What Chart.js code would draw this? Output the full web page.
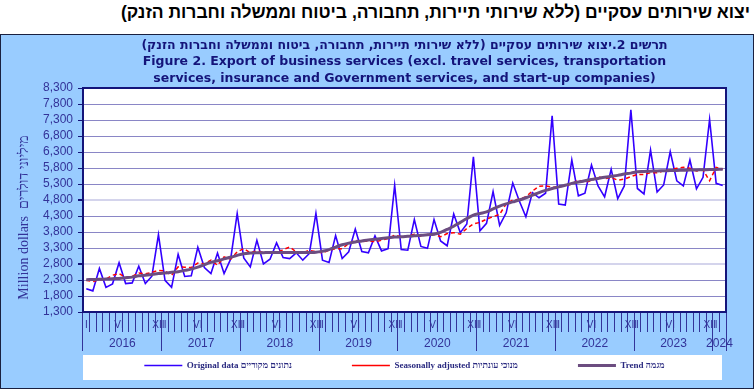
<!DOCTYPE html>
<html>
<head>
<meta charset="utf-8">
<script src="https://cdn.jsdelivr.net/npm/chart.js@4.4.1/dist/chart.umd.min.js"></script>
<style>
  html, body { margin: 0; padding: 0; background: #ffffff; }
  body { width: 756px; height: 389px; position: relative; overflow: hidden; }
  #heading {
    position: absolute; top: 1px; right: 6px;
    font: bold 17.5px "Liberation Sans", Arial, sans-serif;
    color: #000000; direction: rtl; white-space: nowrap; line-height: 22px;
  }
  #panel {
    position: absolute; left: 0; top: 34px; width: 752px; height: 353px;
    background: #99ccff; border: 1px solid #1a2040;
  }
  #wrap { position: absolute; left: 0; top: 35px; width: 754px; height: 354px; }
</style>
</head>
<body>
<div id="heading">יצוא שירותים עסקיים (ללא שירותי תיירות, תחבורה, ביטוח וממשלה וחברות הזנק)</div>
<div id="panel"></div>
<div id="wrap"><canvas id="chart_canvas"></canvas></div>
<script>
// chart titles
var title_lines = [
    'תרשים 2.יצוא שירותים עסקיים (ללא שירותי תיירות, תחבורה, ביטוח וממשלה וחברות הזנק)',
    'Figure 2. Export of business services (excl. travel services, transportation',
    'services, insurance and Government services, and start-up companies)'
];
// trailing spaces push the rotated title down a little
var y_title = 'Million dollars  מיליוני דולרים\u2002\u2002\u2002\u2002\u2002';
var series_names = ['Original data נתונים מקוריים', 'Seasonally adjusted מנוכי עונתיות', 'Trend מגמה'];

// x categories: monthly, Jan 2016 .. Feb 2024
var years = [2016, 2017, 2018, 2019, 2020, 2021, 2022, 2023, 2024];
var months_per_year = [12, 12, 12, 12, 12, 12, 12, 12, 2];
var month_ticks = ['I', '', '', '', '', 'VI', '', '', '', '', '', 'XII'];

// y axis
var y_min = 1300;
var y_max = 8300;
var y_step = 500;

// million dollars
var original_data = [
    2030, 1960, 2660, 2070, 2180, 2840, 2190, 2210, 2730, 2190, 2420, 3720,
    2290, 2070, 3100, 2410, 2430, 3320, 2690, 2500, 3140, 2500, 2950, 4380,
    2990, 2710, 3540, 2800, 2950, 3460, 3000, 2970, 3150, 2920, 3130, 4380,
    2920, 2850, 3690, 2970, 3180, 3890, 3190, 3150, 3680, 3210, 3280, 5260,
    3250, 3230, 4190, 3350, 3290, 4190, 3520, 3370, 4360, 3780, 4050, 6150,
    3840, 4070, 5060, 4010, 4400, 5330, 4770, 4275, 5030, 4870, 5010, 7430,
    4670, 4640, 6050, 4930, 5010, 5890, 5240, 4900, 5760, 4840, 5240, 7620,
    5160, 4990, 6360, 5050, 5270, 6310, 5400, 5240, 6050, 5150, 5510, 7320,
    5320, 5250
];
var seasonal_data = [
    2290, 2250, 2310, 2330, 2450, 2500, 2380, 2420, 2520, 2490, 2540, 2600,
    2580, 2450, 2710, 2700, 2690, 2830, 2800, 2920, 2760, 3020, 2950, 3180,
    3280, 3150, 3210, 3160, 3130, 3140, 3250, 3330, 3180, 3150, 3230, 3180,
    3150, 3230, 3280, 3280, 3440, 3540, 3500, 3520, 3500, 3540, 3600, 3700,
    3650, 3670, 3730, 3670, 3720, 3730, 3650, 3750, 3780, 3730, 3910, 4050,
    4100, 4200, 4280, 4350, 4680, 4800, 4820, 4900, 5080, 5230, 5240, 5200,
    5210, 5240, 5300, 5420, 5360, 5400, 5530, 5470, 5500, 5420, 5450, 5530,
    5600, 5600, 5650, 5650, 5710, 5740, 5790, 5820, 5790, 5710, 5740, 5400,
    5820, 5760
];
var trend_data = [
    2310, 2315, 2320, 2330, 2340, 2350, 2370, 2390, 2430, 2450, 2470, 2500,
    2520, 2540, 2560, 2600, 2640, 2700, 2780, 2850, 2900, 2960, 3010, 3070,
    3120, 3140, 3150, 3155, 3160, 3160, 3160, 3160, 3160, 3160, 3160, 3165,
    3200, 3250, 3330, 3400, 3450, 3490, 3520, 3550, 3575, 3600, 3620, 3640,
    3650, 3665, 3680, 3700, 3715, 3730, 3790, 3880, 3980, 4100, 4220, 4330,
    4380, 4430, 4520, 4610, 4680, 4740, 4800, 4870, 4950, 5030, 5100, 5160,
    5210, 5260, 5320, 5360, 5400, 5440, 5475, 5510, 5540, 5570, 5610, 5640,
    5680, 5690, 5700, 5710, 5715, 5720, 5725, 5730, 5735, 5740, 5745, 5750,
    5755, 5760
];

var navy = '#14147a';
var axis_text = '#333399';

// build the month labels and the index where each year's label goes
var labels = [];
var year_label_at = {};
for (var y = 0; y < years.length; y++) {
    year_label_at[labels.length + Math.floor((months_per_year[y] - 1) / 2)] = years[y];
    for (var m = 0; m < months_per_year[y]; m++) {
        labels.push(years[y] + '-' + (m + 1));
    }
}

Chart.defaults.font.family = '"Liberation Sans", Arial, sans-serif';
Chart.defaults.animation = false;

// white plot area, white legend box, dark frame round the plot
var frame_plugin = {
    id: 'frame',
    beforeDraw: function (chart) {
        var ctx = chart.ctx, a = chart.chartArea, lg = chart.legend;
        ctx.save();
        ctx.fillStyle = '#ffffff';
        ctx.fillRect(a.left, a.top, a.right - a.left, a.bottom - a.top);
        ctx.fillRect(a.left, lg.top, a.right - a.left - 4, lg.bottom - lg.top);
        ctx.restore();
    },
    afterDraw: function (chart) {
        var ctx = chart.ctx, a = chart.chartArea;
        ctx.save();
        ctx.strokeStyle = navy;
        ctx.lineWidth = 2;
        ctx.strokeRect(a.left, a.top, a.right - a.left, a.bottom - a.top);
        ctx.restore();
    }
};

var canvas = document.getElementById('chart_canvas');
var chart = new Chart(canvas, {
    type: 'line',
    data: {
        labels: labels,
        datasets: [
            { label: series_names[0], data: original_data, borderColor: '#3300ff', backgroundColor: '#3300ff',
              borderWidth: 1.6, pointRadius: 0, tension: 0, order: 2 },
            { label: series_names[1], data: seasonal_data, borderColor: '#ff0000', backgroundColor: '#ff0000',
              borderWidth: 1.5, borderDash: [4, 3], pointRadius: 0, tension: 0, order: 1 },
            { label: series_names[2], data: trend_data, borderColor: '#6c4d80', backgroundColor: '#6c4d80',
              borderWidth: 3, pointRadius: 0, tension: 0.4, order: 0 }
        ]
    },
    options: {
        responsive: true,
        maintainAspectRatio: false,
        events: [],
        layout: { padding: { left: 0, right: 28, top: 0, bottom: 9 } },
        plugins: {
            title: {
                display: true, fullSize: false, text: title_lines, color: navy,
                font: { family: '"DejaVu Sans", Verdana, sans-serif', size: 12.5, weight: 'bold', lineHeight: 1.32 },
                padding: { top: 2, bottom: 1.5 }
            },
            legend: {
                position: 'bottom', fullSize: false,
                labels: {
                    usePointStyle: true, pointStyle: 'line', pointStyleWidth: 38,
                    color: '#2a2a80', padding: 6,
                    font: { family: '"Liberation Serif", "Times New Roman", serif', size: 9, weight: 'bold' },
                    generateLabels: function (chart) {
                        // keep dataset order (not draw order) and widen the gaps
                        var items = Chart.defaults.plugins.legend.labels.generateLabels(chart);
                        items.sort(function (a, b) { return a.datasetIndex - b.datasetIndex; });
                        for (var i = 0; i < items.length - 1; i++) {
                            items[i].text = items[i].text + '\u2003\u2003\u2003\u2003\u2003\u2003';
                        }
                        return items;
                    }
                }
            },
            tooltip: { enabled: false }
        },
        scales: {
            x: {
                type: 'category', position: 'bottom', offset: true,
                grid: { offset: true, drawOnChartArea: false, drawTicks: true, tickLength: 20, color: axis_text, lineWidth: 1 },
                border: { display: true, color: navy, width: 2 },
                ticks: {
                    autoSkip: false, maxRotation: 0, minRotation: 0, padding: -13,
                    color: axis_text, font: { size: 10 },
                    callback: function (v, i) { return month_ticks[i % 12]; }
                },
                afterFit: function (s) { s.height = 20; }
            },
            x2: {
                type: 'category', position: 'bottom', offset: true,
                grid: {
                    offset: true, drawOnChartArea: false, drawTicks: true, tickLength: 19, lineWidth: 1,
                    color: function (c) {
                        return (c.index === undefined || c.index % 12 === 0) ? axis_text : 'rgba(0,0,0,0)';
                    }
                },
                border: { display: false },
                ticks: {
                    autoSkip: false, maxRotation: 0, minRotation: 0, padding: -15, labelOffset: 3.3,
                    color: axis_text, font: { size: 12 },
                    callback: function (v, i) { return year_label_at[i] !== undefined ? String(year_label_at[i]) : ''; }
                },
                afterFit: function (s) { s.height = 23; }
            },
            y: {
                min: y_min, max: y_max,
                ticks: {
                    stepSize: y_step, autoSkip: false, color: axis_text, padding: 5, font: { size: 12 },
                    callback: function (v) { return v.toLocaleString('en-US'); }
                },
                grid: {
                    drawTicks: true, tickLength: 5, tickColor: navy,
                    color: function (c) { return (c.tick && (c.tick.value === 4800 || c.tick.value === 2800)) ? '#d4d4ec' : '#8a86c6'; },
                    lineWidth: function (c) { return (c.tick && (c.tick.value === 4800 || c.tick.value === 2800)) ? 2 : 1; }
                },
                border: { color: navy, width: 2 },
                title: {
                    display: true, text: y_title, color: axis_text,
                    font: { family: '"Liberation Serif", "Times New Roman", serif', size: 14 },
                    padding: { top: 16, bottom: 0 }
                },
                afterFit: function (s) { s.width = 83; }
            }
        }
    },
    plugins: [frame_plugin]
});
</script>
</body>
</html>
